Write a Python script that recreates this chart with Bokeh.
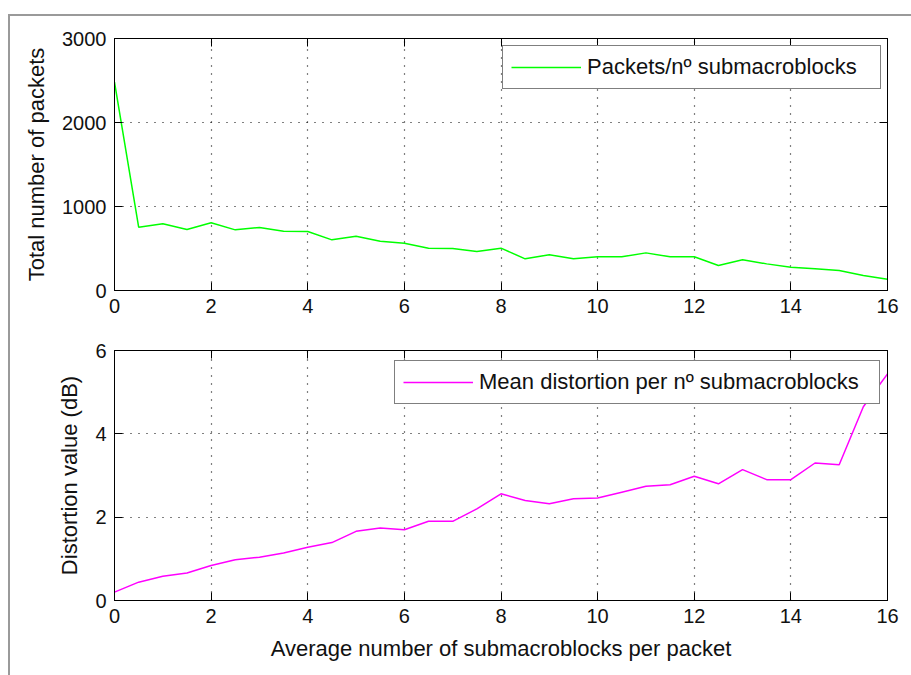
from bokeh.plotting import figure
from bokeh.models import (LinearAxis, Legend, LegendItem, FixedTicker, Range1d,
                          CustomJSTickFormatter)
from bokeh.layouts import column
from bokeh.embed import file_html
from bokeh.resources import INLINE

# ---- data ----
x_vals = [0, 0.5, 1, 1.5, 2, 2.5, 3, 3.5, 4, 4.5, 5, 5.5, 6, 6.5, 7, 7.5, 8,
          8.5, 9, 9.5, 10, 10.5, 11, 11.5, 12, 12.5, 13, 13.5, 14, 14.5, 15, 15.5, 16]
packets = [2480, 754, 794, 726, 806, 722, 750, 706, 702, 603, 647, 587, 563, 504,
           500, 464, 504, 377, 425, 377, 401, 401, 448, 401, 401, 298, 365, 317,
           278, 258, 238, 179, 135]
distortion = [0.20, 0.44, 0.58, 0.66, 0.84, 0.98, 1.04, 1.14, 1.28, 1.39, 1.66,
              1.74, 1.70, 1.90, 1.90, 2.20, 2.56, 2.40, 2.32, 2.44, 2.46, 2.60,
              2.74, 2.78, 2.98, 2.80, 3.14, 2.90, 2.90, 3.30, 3.26, 4.65, 5.44]
x_ticks = [0, 2, 4, 6, 8, 10, 12, 14, 16]
packets_ticks = [0, 1000, 2000, 3000]
distortion_ticks = [0, 2, 4, 6]
packets_label = "Packets/nº submacroblocks"
distortion_label = "Mean distortion per nº submacroblocks"
x_title = "Average number of submacroblocks per packet"
packets_title = "Total number of packets"
distortion_title = "Distortion value (dB)"

FONT = "Liberation Sans"


def style_axis(ax, ticks, labels=True):
    ax.ticker = FixedTicker(ticks=ticks)
    ax.major_tick_in = 8
    ax.major_tick_out = 0
    ax.minor_tick_in = 0
    ax.minor_tick_out = 0
    ax.axis_line_color = "black"
    ax.axis_line_width = 1
    ax.major_tick_line_color = "black"
    ax.major_tick_line_width = 1
    ax.major_label_text_font = FONT
    ax.major_label_text_font_size = "20px"
    ax.major_label_text_color = "#111111"
    ax.major_label_standoff = 8
    ax.axis_label_text_font = FONT
    ax.axis_label_text_font_size = "22px"
    ax.axis_label_text_font_style = "normal"
    ax.axis_label_text_color = "#111111"
    ax.axis_label_standoff = 10
    if not labels:
        ax.formatter = CustomJSTickFormatter(code="return ''")
        ax.major_label_standoff = 0


def make_fig(height, top, bottom, yr, yticks, ytitle, xtitle, y, label, color, loc, lw):
    p = figure(width=901, height=height, x_range=Range1d(0, 16),
               y_range=Range1d(*yr), output_backend="svg", toolbar_location=None,
               min_border_left=104, min_border_right=24,
               min_border_top=top, min_border_bottom=bottom)
    p.background_fill_color = "white"
    p.border_fill_color = "white"
    p.outline_line_color = "black"
    p.outline_line_width = 1
    style_axis(p.xaxis[0], x_ticks)
    style_axis(p.yaxis[0], yticks)
    p.xaxis.axis_label = xtitle
    p.yaxis.axis_label = ytitle
    ax_top = LinearAxis()
    style_axis(ax_top, x_ticks, labels=False)
    p.add_layout(ax_top, "above")
    ax_right = LinearAxis()
    style_axis(ax_right, yticks, labels=False)
    p.add_layout(ax_right, "right")
    for g in (p.xgrid, p.ygrid):
        g.grid_line_color = "black"
        g.grid_line_dash = "1 7"
        g.grid_line_width = 1.2
    p.xgrid.ticker = FixedTicker(ticks=x_ticks)
    p.ygrid.ticker = FixedTicker(ticks=yticks)
    r = p.line(x_vals, y, line_color=color, line_width=1.5)
    leg = Legend(items=[LegendItem(label=label, renderers=[r])], location=loc)
    leg.border_line_color = "black"
    leg.border_line_width = 1.5
    leg.background_fill_color = "white"
    leg.background_fill_alpha = 1
    leg.label_text_font = FONT
    leg.label_text_font_size = "22px"
    leg.label_text_color = "#111111"
    leg.glyph_width = 70
    leg.glyph_height = 20
    leg.label_standoff = 6
    leg.label_width = lw
    leg.padding = 8
    leg.margin = 0
    leg.spacing = 0
    p.add_layout(leg)
    return p


p1 = make_fig(304, 22, 30, (0, 3000), packets_ticks, packets_title, None,
              packets, packets_label, "#00ff00", (388, 201), 285)
p2 = make_fig(355, 30, 75, (0, 6), distortion_ticks, distortion_title, x_title,
              distortion, distortion_label, "#ff00ff", (280, 196), 392)

layout = column(p1, p2, margin=(14, 0, 0, 8),
                styles={"border-top": "2px solid #9a9a9a",
                        "border-left": "2px solid #9a9a9a",
                        "background": "white"})

open("out.html", "w").write(file_html(layout, INLINE))
